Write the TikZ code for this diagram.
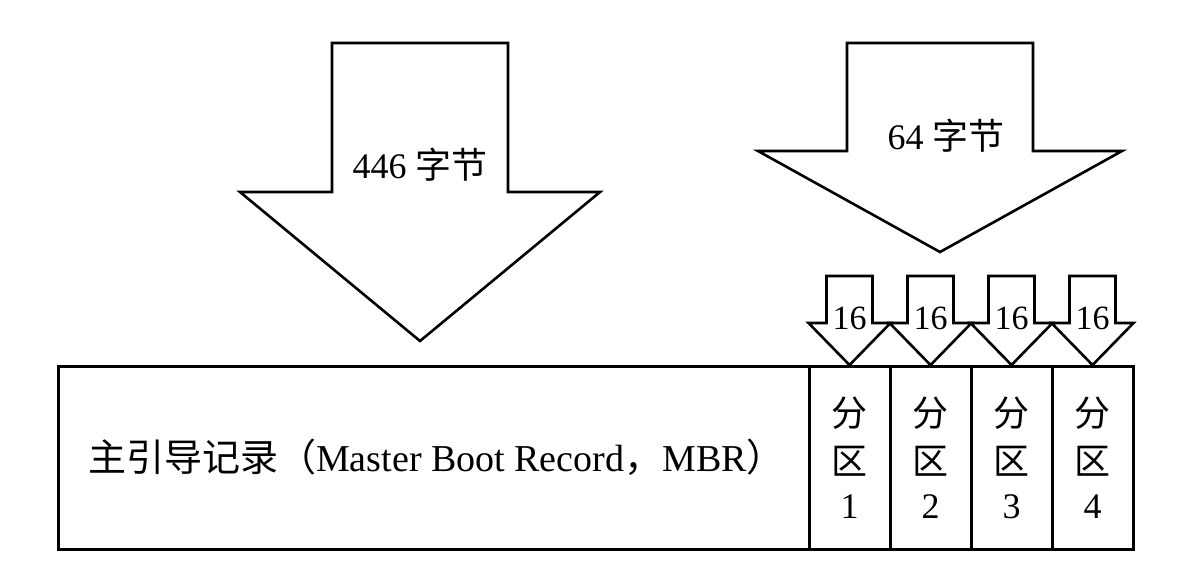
\documentclass[tikz,border=0pt]{standalone}
\usepackage{fontspec}
\setmainfont{Liberation Serif}
\newfontfamily\cjk{Noto Sans CJK SC}
\usepackage{tikz}
\usetikzlibrary{positioning}

\begin{document}
\begin{tikzpicture}[
  x=1pt, y=-1pt,
  blockarrow/.style={draw=black, fill=white, line width=2.6pt, line join=miter},
  recbox/.style={rectangle, draw=black, line width=3pt, outer sep=0pt,
                 inner sep=0pt, minimum height=183pt, align=center},
  lbl/.style={font=\fontsize{36}{40}\selectfont, inner sep=0pt},
  sublbl/.style={font=\fontsize{34}{38}\selectfont, inner sep=0pt},
]
\useasboundingbox (0,0) rectangle (1177,565);
% Block arrows: centre / top / shoulder / tip / shaft half-width / head half-width.
% The two large ones come first, then the four 16-byte entries over the partitions.
\foreach \cx/\ytop/\ysh/\ytip/\ws/\wh in {
  420/43/192/341/88/180,
  940/43/151/252/93/182,
  849.5/276/323/365/23/41,
  930.5/276/323/365/23/41,
  1011.5/276/323/365/23/41,
  1092.5/276/323/365/23/41
} {
  \draw[blockarrow] (\cx-\ws,\ytop) -- (\cx+\ws,\ytop) -- (\cx+\ws,\ysh)
    -- (\cx+\wh,\ysh) -- (\cx,\ytip) -- (\cx-\wh,\ysh) -- (\cx-\ws,\ysh) -- cycle;
}
\node[lbl] (mbrbytes) at (420,165) {446 {\cjk 字节}};
\node[lbl] (ptbytes) at (946,136) {64 {\cjk 字节}};

% MBR record and the four partition entries
\node[recbox, minimum width=751pt, font=\fontsize{38}{42}\selectfont]
  (mbr) at (433.5,457.5)
  {\hspace*{6pt}{\cjk 主引导记录（}Master Boot Record{\cjk ，}MBR{\cjk ）}};
\foreach \i/\x in {1/849.5, 2/930.5, 3/1011.5, 4/1092.5} {
  \node[recbox, minimum width=81pt, font=\fontsize{36}{48}\selectfont]
    (part\i) at (\x,457.5) {{\cjk 分}\\{\cjk 区}\\[-4pt]\i};
  \node[sublbl] (entry\i) at (\x,318) {16};
}
\end{tikzpicture}
\end{document}
